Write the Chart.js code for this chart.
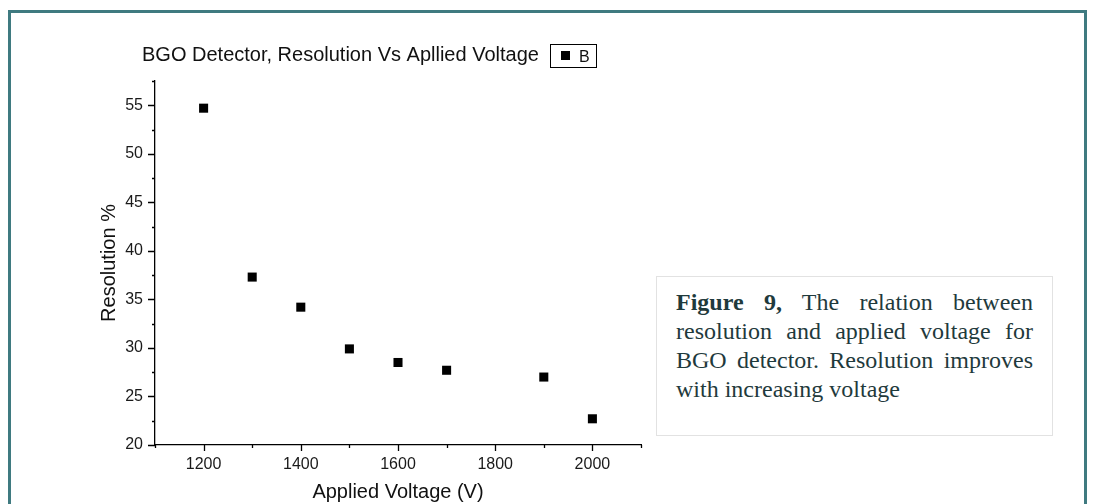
<!DOCTYPE html>
<html>
<head>
<meta charset="utf-8">
<script src="https://cdn.jsdelivr.net/npm/chart.js@4.4.1/dist/chart.umd.min.js"></script>
<style>
  html, body { margin: 0; padding: 0; background: #fff; }
  body { width: 1094px; height: 504px; position: relative; overflow: hidden; }
  #frame {
    position: absolute; left: 8px; top: 10px; width: 1073px; height: 520px;
    border: 3px solid #3f7a80;
  }
  #chartBox { position: absolute; left: 0; top: 0; width: 1094px; height: 504px; }
  #note {
    position: absolute; left: 656px; top: 276px; width: 397px; height: 160px;
    box-sizing: border-box; border: 1px solid #e2e2e2; background: #fff;
    padding: 11px 19px 0 19px;
    font-family: "Liberation Serif", "Times New Roman", serif;
    font-size: 24px; line-height: 29px; color: #1f3a3c;
    text-align: justify;
  }
</style>
</head>
<body>
<div id="frame"></div>
<div id="chartBox"><canvas id="myChart" width="1094" height="504"></canvas></div>
<div id="note"><b>Figure 9,</b> The relation between resolution and applied voltage for BGO detector. Resolution improves with increasing voltage</div>

<script>
  const chartTitle = 'BGO Detector, Resolution Vs Apllied Voltage';
  const seriesName = 'B';

  // applied voltage (V) and energy resolution (%)
  const voltages = [1200, 1300, 1400, 1500, 1600, 1700, 1900, 2000];
  const resolutions = [54.7, 37.3, 34.2, 29.9, 28.5, 27.7, 27.0, 22.7];

  // axis ranges: major ticks get a label, minor ones sit halfway between
  const xRange = [1100, 2100];
  const xMajor = 200;
  const yRange = [20, 57.5];
  const yMajor = 5;

  const axisFont = "'Liberation Sans', Arial, sans-serif";

  // outward tick marks, long for labelled ticks and short for the rest
  const tickMarks = {
    id: 'tickMarks',
    afterDraw(chart) {
      const ctx = chart.ctx;
      const area = chart.chartArea;
      const xs = chart.scales.x;
      const ys = chart.scales.y;
      ctx.save();
      ctx.strokeStyle = '#000';
      ctx.lineWidth = 1.3;
      ctx.beginPath();
      xs.ticks.forEach((t) => {
        const px = Math.round(xs.getPixelForValue(t.value)) + 0.5;
        const len = (t.value % xMajor === 0) ? 6 : 3;
        ctx.moveTo(px, area.bottom);
        ctx.lineTo(px, area.bottom + len);
      });
      ys.ticks.forEach((t) => {
        const py = Math.round(ys.getPixelForValue(t.value)) + 0.5;
        const len = (t.value % yMajor === 0) ? 7 : 3;
        ctx.moveTo(area.left, py);
        ctx.lineTo(area.left - len, py);
      });
      ctx.stroke();
      ctx.restore();
    }
  };

  // title text followed by a small boxed legend
  const titleLegend = {
    id: 'titleLegend',
    afterDraw(chart) {
      const ctx = chart.ctx;
      const ds = chart.data.datasets[0];
      ctx.save();
      ctx.fillStyle = '#111';
      ctx.textBaseline = 'alphabetic';
      ctx.font = '20px ' + axisFont;
      ctx.fillText(chartTitle, 142, 61);

      ctx.strokeStyle = '#000';
      ctx.lineWidth = 1;
      ctx.strokeRect(550.5, 44.5, 46, 23);
      ctx.fillStyle = ds.backgroundColor;
      ctx.fillRect(561, 51, 9, 9);
      ctx.fillStyle = '#111';
      ctx.font = '16px ' + axisFont;
      ctx.fillText(ds.label, 579, 62);
      ctx.restore();
    }
  };

  const points = voltages.map((v, i) => ({ x: v, y: resolutions[i] }));

  new Chart(document.getElementById('myChart'), {
    type: 'scatter',
    data: {
      datasets: [{
        label: seriesName,
        data: points,
        pointStyle: 'rect',
        pointRadius: 6.4,
        pointHoverRadius: 6.4,
        borderWidth: 0,
        backgroundColor: '#000'
      }]
    },
    options: {
      responsive: false,
      animation: false,
      events: [],
      layout: { padding: { left: 0, right: 453, top: 81, bottom: 0 } },
      plugins: {
        legend: { display: false },
        title: { display: false },
        tooltip: { enabled: false }
      },
      scales: {
        x: {
          type: 'linear',
          min: xRange[0],
          max: xRange[1],
          afterFit: (scale) => { scale.height = 59; },
          border: { display: true, color: '#000', width: 1.3 },
          grid: { display: false, drawTicks: false },
          ticks: {
            stepSize: xMajor / 2,
            autoSkip: false,
            maxRotation: 0,
            padding: 10,
            color: '#1a1a1a',
            font: { family: axisFont, size: 16 },
            callback: (v) => (v % xMajor === 0 ? String(v) : '')
          },
          title: {
            display: true,
            text: 'Applied Voltage (V)',
            color: '#111',
            font: { family: axisFont, size: 20 },
            padding: { top: 0, bottom: 0 }
          }
        },
        y: {
          type: 'linear',
          min: yRange[0],
          max: yRange[1],
          afterFit: (scale) => { scale.width = 155; },
          border: { display: true, color: '#000', width: 1.3 },
          grid: { display: false, drawTicks: false },
          ticks: {
            stepSize: yMajor / 2,
            autoSkip: false,
            padding: 12,
            color: '#1a1a1a',
            font: { family: axisFont, size: 16 },
            callback: (v) => (v % yMajor === 0 ? String(v) : '')
          },
          title: {
            display: true,
            text: 'Resolution %',
            color: '#111',
            font: { family: axisFont, size: 20 },
            padding: { top: 97, bottom: 0 }
          }
        }
      }
    },
    plugins: [tickMarks, titleLegend]
  });
</script>
</body>
</html>
